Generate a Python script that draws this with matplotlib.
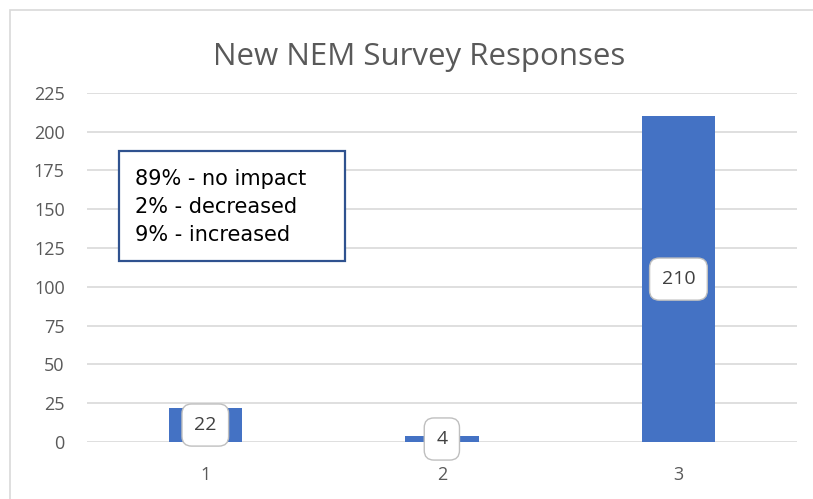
import matplotlib as mpl
mpl.use('Agg')
import matplotlib.pyplot as plt
from matplotlib.patches import Rectangle

categories = ['1', '2', '3']
responses = [22, 4, 210]
note_lines = ['89% - no impact', '2% - decreased', '9% - increased']
y_ticks = [0, 25, 50, 75, 100, 125, 150, 175, 200, 225]

bar_color = '#4472C4'
grey = '#595959'

fig = plt.figure(figsize=(8.13, 4.99), dpi=100)
ax = fig.add_axes([0.107, 0.114, 0.873, 0.700])

# light frame round the chart (right and bottom edges run off the picture)
fig.patches.append(Rectangle((0.0123, -0.05), 1.1, 1.03, transform=fig.transFigure,
                             fill=False, edgecolor='#D9D9D9', linewidth=1.2))

x = range(len(categories))
bars = ax.bar(x, responses, width=0.31, color=bar_color, zorder=2)

for bar, v in zip(bars, responses):
    ax.text(bar.get_x() + bar.get_width() / 2, v / 2, str(v), ha='center', va='center',
            fontsize=14, color='#404040', family='Open Sans', zorder=3,
            bbox=dict(boxstyle='round,pad=0.62,rounding_size=0.5', fc='white',
                      ec='#BFBFBF', lw=1.0))

ax.set_xlim(-0.5, 2.5)
ax.set_ylim(0, 225)
ax.set_yticks(y_ticks)
ax.set_xticks(list(x))
ax.set_xticklabels(categories)
ax.yaxis.grid(True, color='#D9D9D9', linewidth=1.2, zorder=0)
ax.set_axisbelow(True)
for s in ax.spines.values():
    s.set_visible(False)
ax.tick_params(length=0, colors=grey, labelsize=13)
ax.tick_params(axis='y', pad=16)
ax.tick_params(axis='x', pad=17)
for lbl in ax.get_xticklabels() + ax.get_yticklabels():
    lbl.set_family('Open Sans')

fig.text(0.515, 0.885, 'New NEM Survey Responses', ha='center', va='center',
         fontsize=22.5, color=grey, family='Open Sans')

# note box
ax.add_patch(Rectangle((0.045, 0.519), 0.319, 0.315, transform=ax.transAxes,
                       fc='white', ec='#2F528F', lw=1.6, zorder=4))
ax.text(0.068, 0.673, '\n'.join(note_lines), transform=ax.transAxes, ha='left', va='center',
        fontsize=15, color='black', family='DejaVu Sans', linespacing=1.5, zorder=5)

plt.savefig('out.png', dpi=100)
